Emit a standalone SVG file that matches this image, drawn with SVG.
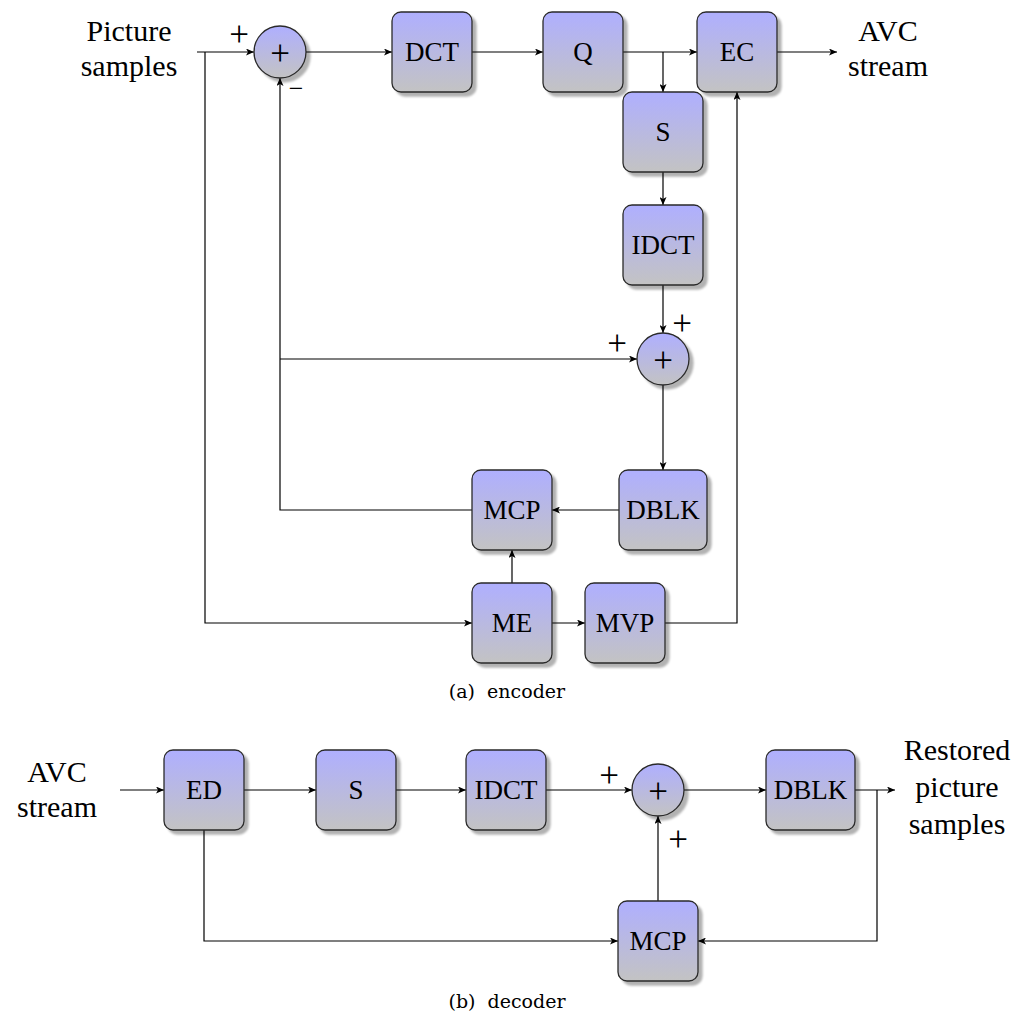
<svg xmlns="http://www.w3.org/2000/svg" width="1020" height="1023" viewBox="0 0 1020 1023">
<style>
.box{fill:url(#g);stroke:#2a2a2a;stroke-width:1.3;filter:url(#sh)}
.lbl{font-family:"Liberation Serif",serif;font-size:27px;text-anchor:middle;fill:#000}
.big{font-family:"Liberation Serif",serif;font-size:30px;text-anchor:middle;fill:#000}
.sgn{font-family:"Liberation Serif",serif;font-size:35px;text-anchor:middle;fill:#000}
.mns{font-family:"Liberation Serif",serif;font-size:26px;text-anchor:middle;fill:#000}
.cap{font-family:"DejaVu Serif",serif;font-size:19px;text-anchor:middle;fill:#000;white-space:pre}
.ln{fill:none;stroke:#000;stroke-width:1.2;marker-end:url(#ar)}
</style>
<defs>
<linearGradient id="g" x1="0" y1="0" x2="0" y2="1">
<stop offset="0" stop-color="#afafff"/>
<stop offset="1" stop-color="#c3c3c3"/>
</linearGradient>
<filter id="sh" x="-20%" y="-20%" width="150%" height="150%">
<feDropShadow dx="4" dy="4" stdDeviation="1.2" flood-color="#000" flood-opacity="0.3"/>
</filter>
<marker id="ar" markerWidth="9" markerHeight="7" refX="8" refY="3.5" orient="auto" markerUnits="userSpaceOnUse">
<path d="M0,0 L8,3.5 L0,7 L2,3.5 z" fill="#000"/>
</marker>
</defs>

<g id="connectors">
<path class="ln" d="M197,52 H254"/>
<path class="ln" d="M205,52 V623 H472"/>
<path class="ln" d="M306,52 H392"/>
<path class="ln" d="M472,52 H543"/>
<path class="ln" d="M623,52 H697"/>
<path class="ln" d="M663,52 V92"/>
<path class="ln" d="M777,52 H837"/>
<path class="ln" d="M663,172 V205"/>
<path class="ln" d="M663,285 V333"/>
<path class="ln" d="M663,385 V470"/>
<path class="ln" d="M619,510 H552"/>
<path class="ln" d="M472,510 H280 V78"/>
<path class="ln" d="M280,359 H637"/>
<path class="ln" d="M512,583 V550"/>
<path class="ln" d="M552,623 H585"/>
<path class="ln" d="M665,623 H737 V92"/>
<path class="ln" d="M120,790 H164"/>
<path class="ln" d="M244,790 H316"/>
<path class="ln" d="M396,790 H466"/>
<path class="ln" d="M546,790 H632"/>
<path class="ln" d="M684,790 H766"/>
<path class="ln" d="M855,790 H895"/>
<path class="ln" d="M877,790 V941 H698"/>
<path class="ln" d="M204,830 V941 H618"/>
<path class="ln" d="M658,901 V816"/>
</g>

<g id="enc-in"><text class="big" x="129" y="41">Picture</text><text class="big" x="129" y="76">samples</text></g>
<g id="enc-out"><text class="big" x="888" y="41">AVC</text><text class="big" x="888" y="76">stream</text></g>

<g id="sum1"><circle class="box" cx="280" cy="52" r="26"/><text class="sgn" x="280" y="65">+</text>
<text class="sgn" x="239" y="46">+</text><text class="mns" x="296" y="97">−</text></g>
<g id="dct"><rect class="box" x="392" y="12" width="80" height="80" rx="9"/><text class="lbl" x="432" y="61">DCT</text></g>
<g id="q"><rect class="box" x="543" y="12" width="80" height="80" rx="9"/><text class="lbl" x="583" y="61">Q</text></g>
<g id="ec"><rect class="box" x="697" y="12" width="80" height="80" rx="9"/><text class="lbl" x="737" y="61">EC</text></g>
<g id="s-enc"><rect class="box" x="623" y="92" width="80" height="80" rx="9"/><text class="lbl" x="663" y="141">S</text></g>
<g id="idct-enc"><rect class="box" x="623" y="205" width="80" height="80" rx="9"/><text class="lbl" x="663" y="254">IDCT</text></g>
<g id="sum2"><circle class="box" cx="663" cy="359" r="26"/><text class="sgn" x="663" y="372">+</text>
<text class="sgn" x="682" y="335">+</text><text class="sgn" x="617" y="355">+</text></g>
<g id="dblk-enc"><rect class="box" x="619" y="470" width="88" height="80" rx="9"/><text class="lbl" x="663" y="519">DBLK</text></g>
<g id="mcp-enc"><rect class="box" x="472" y="470" width="80" height="80" rx="9"/><text class="lbl" x="512" y="519">MCP</text></g>
<g id="me"><rect class="box" x="472" y="583" width="80" height="80" rx="9"/><text class="lbl" x="512" y="632">ME</text></g>
<g id="mvp"><rect class="box" x="585" y="583" width="80" height="80" rx="9"/><text class="lbl" x="625" y="632">MVP</text></g>
<text id="cap-a" class="cap" x="507" y="698">(a)  encoder</text>

<g id="dec-in"><text class="big" x="57" y="782">AVC</text><text class="big" x="57" y="817">stream</text></g>
<g id="dec-out"><text class="big" x="957" y="760">Restored</text><text class="big" x="957" y="797">picture</text><text class="big" x="957" y="834">samples</text></g>
<g id="ed"><rect class="box" x="164" y="750" width="80" height="80" rx="9"/><text class="lbl" x="204" y="799">ED</text></g>
<g id="s-dec"><rect class="box" x="316" y="750" width="80" height="80" rx="9"/><text class="lbl" x="356" y="799">S</text></g>
<g id="idct-dec"><rect class="box" x="466" y="750" width="80" height="80" rx="9"/><text class="lbl" x="506" y="799">IDCT</text></g>
<g id="sum3"><circle class="box" cx="658" cy="790" r="26"/><text class="sgn" x="658" y="803">+</text>
<text class="sgn" x="609" y="787">+</text><text class="sgn" x="678" y="851">+</text></g>
<g id="dblk-dec"><rect class="box" x="766" y="750" width="89" height="80" rx="9"/><text class="lbl" x="810.5" y="799">DBLK</text></g>
<g id="mcp-dec"><rect class="box" x="618" y="901" width="80" height="80" rx="9"/><text class="lbl" x="658" y="950">MCP</text></g>
<text id="cap-b" class="cap" x="507" y="1008">(b)  decoder</text>
</svg>
